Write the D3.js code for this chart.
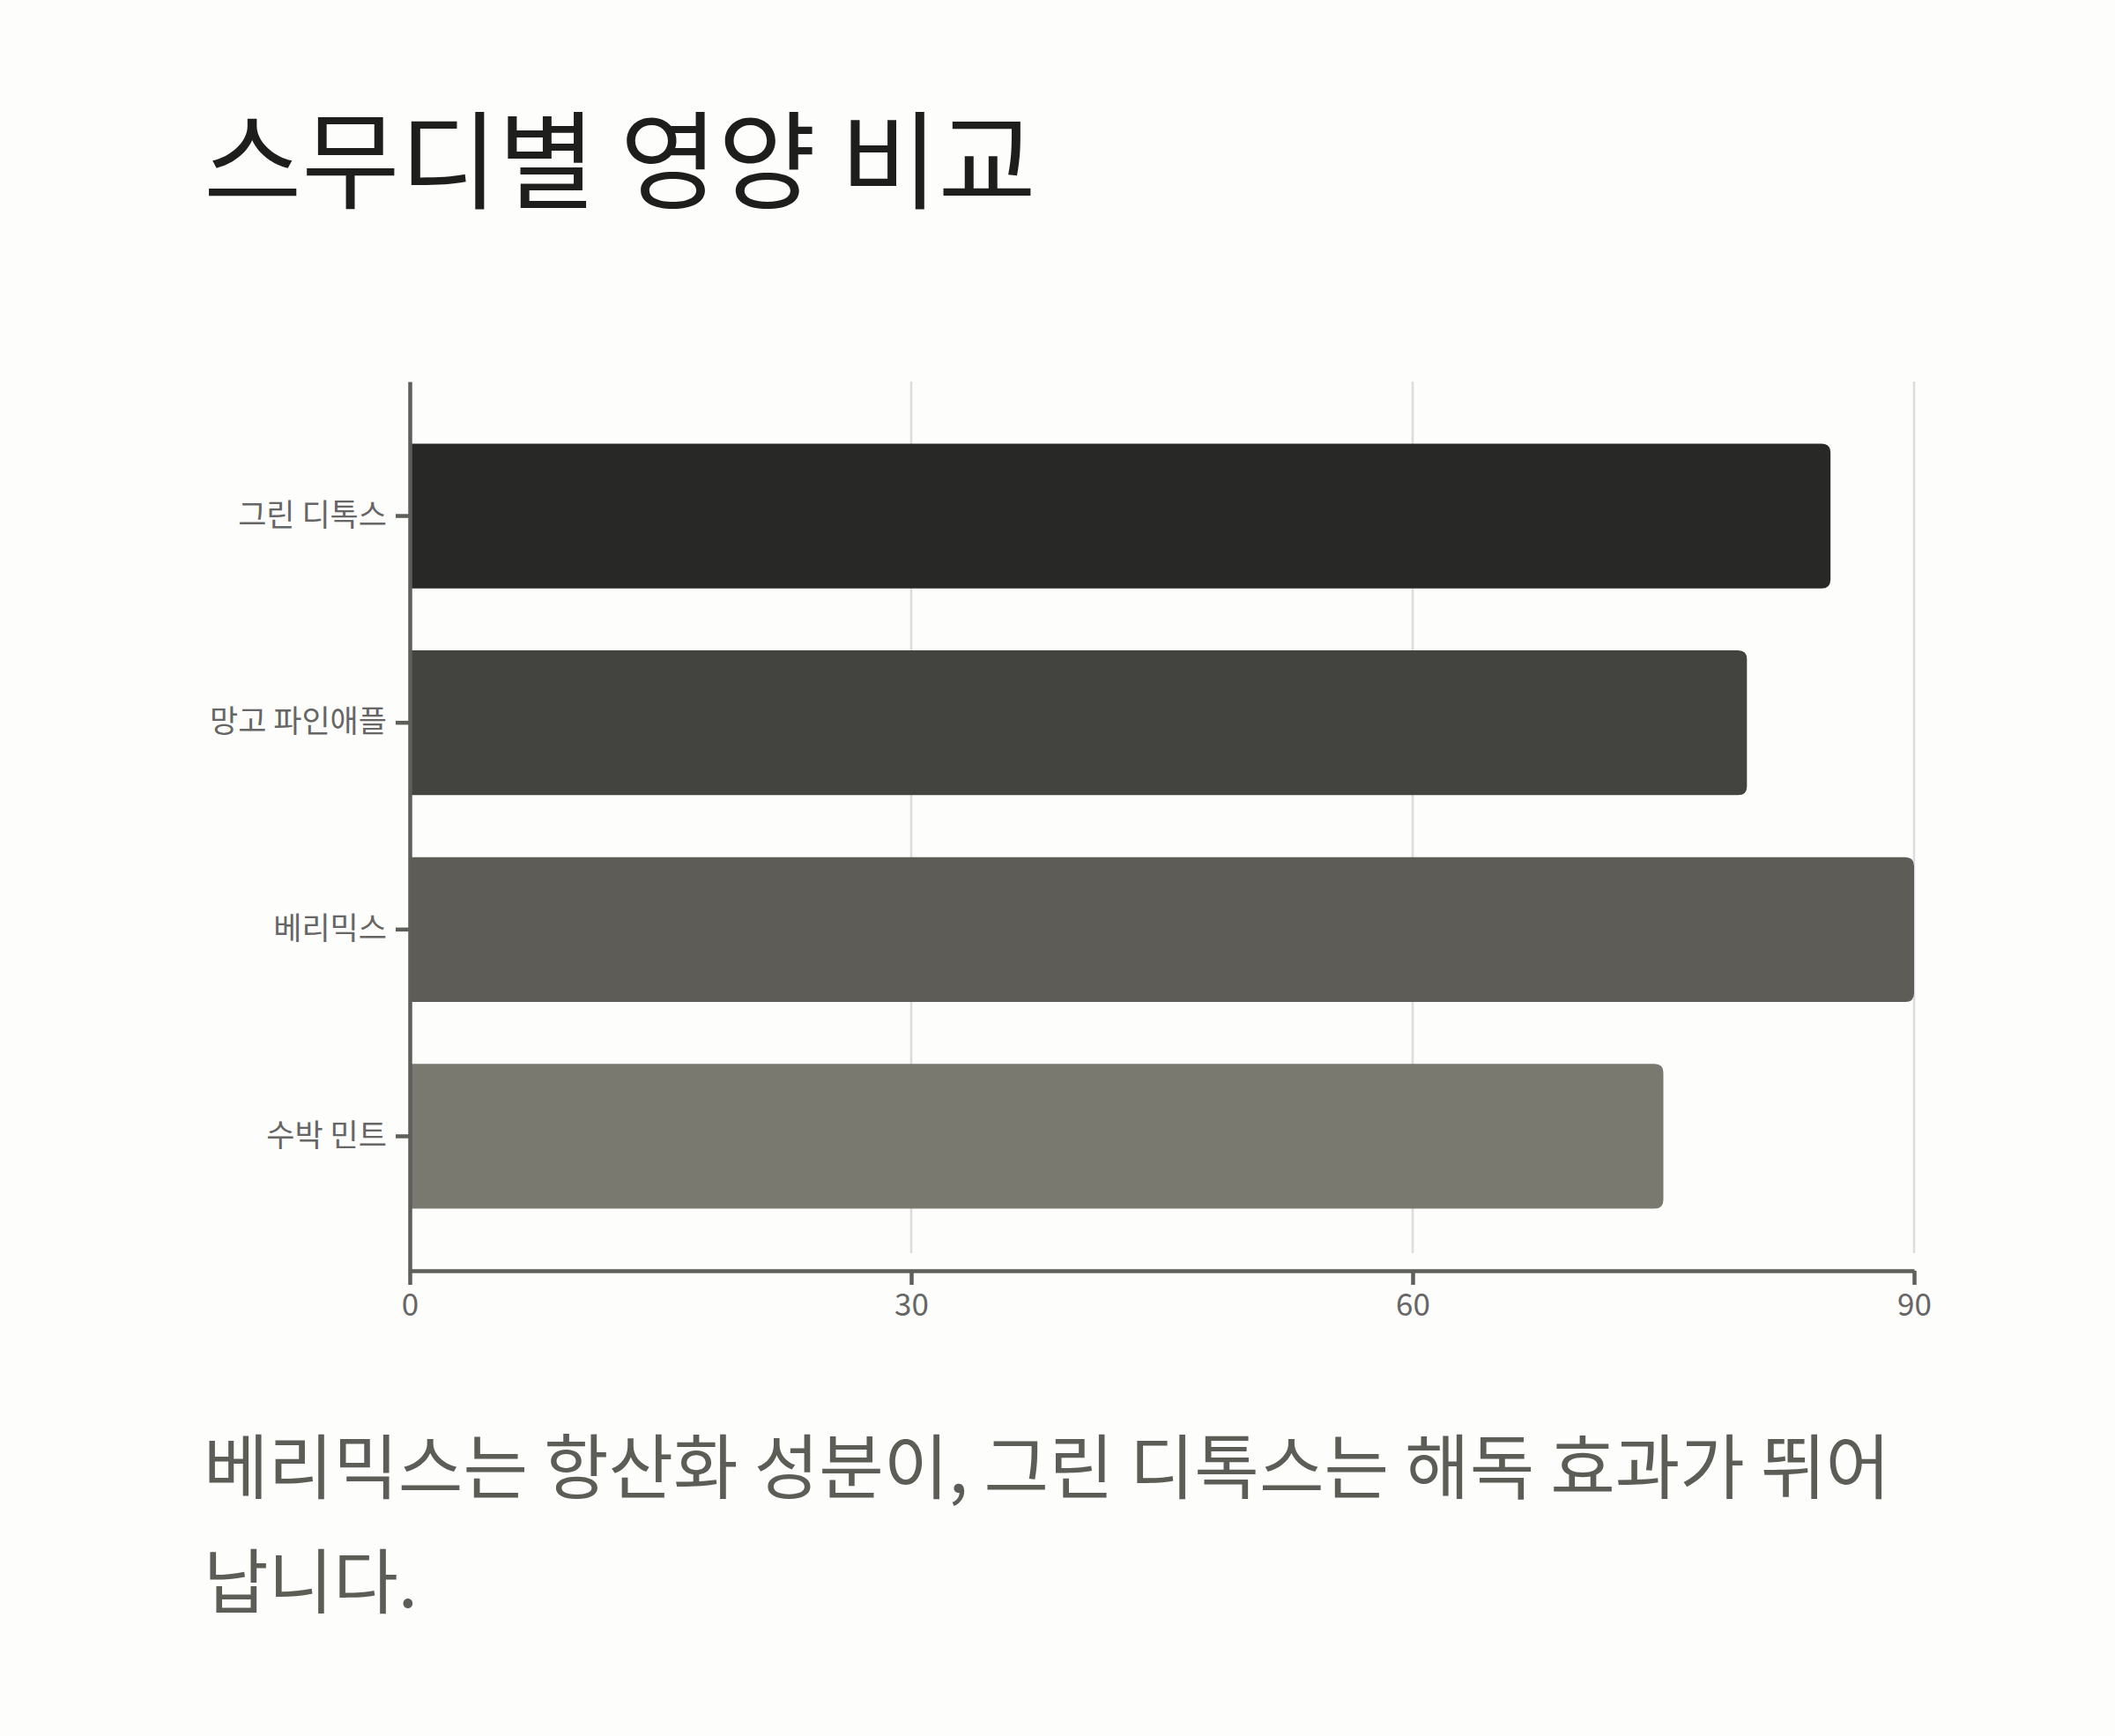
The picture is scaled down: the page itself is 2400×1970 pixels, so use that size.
<!DOCTYPE html>
<html>
<head>
<meta charset="utf-8">
<script src="https://cdn.jsdelivr.net/npm/d3@7"></script>
<style>
  body { margin: 0; background: #fdfdfc; }
  svg { display: block; font-family: "Noto Sans CJK KR", "Noto Sans", sans-serif; }
</style>
</head>
<body>
<div id="chart"></div>
<script>
// data
const smoothies = ["그린 디톡스", "망고 파인애플", "베리믹스", "수박 민트"];
const scores = [85, 80, 90, 75];
const xTicks = [0, 30, 60, 90];
const barColors = ["#282826", "#434440", "#5d5c56", "#7a7970"];
const title = "스무디별 영양 비교";
const note = ["베리믹스는 항산화 성분이, 그린 디톡스는 해독 효과가 뛰어", "납니다."];

const width = 2400, height = 1970,
    margin = ({ top: 433, right: 228, bottom: 528, left: 465 });

const svg = d3.select("#chart")
    .append("svg")
    .attr("width", width)
    .attr("height", height)
    .attr("viewBox", [0, 0, width, height]);

svg.append("text")
    .attr("x", 231)
    .attr("y", 227)
    .attr("font-size", 121)
    .attr("fill", "#1e1e1c")
    .text(title);

let x = d3.scaleLinear()
    .domain([0, 90])
    .range([margin.left, width - margin.right]);

let y = d3.scaleBand()
    .domain(smoothies)
    .range([margin.top, height - margin.bottom])
    .padding(0.3);

const axisY = height - margin.bottom;

// vertical grid lines (stop short of the x axis)
svg.append("g")
    .selectAll("line")
    .data(xTicks.slice(1))
    .join("line")
    .attr("x1", d => x(d))
    .attr("x2", d => x(d))
    .attr("y1", margin.top)
    .attr("y2", axisY - 20)
    .attr("stroke", "#dcdcdc")
    .attr("stroke-width", 2.5);

// bars, rounded on the right end only
const r = 10;
function barPath(d, i) {
    const x0 = x(0), x1 = x(d), y0 = y(smoothies[i]), h = y.bandwidth();
    return `M${x0},${y0}H${x1 - r}Q${x1},${y0} ${x1},${y0 + r}` +
        `V${y0 + h - r}Q${x1},${y0 + h} ${x1 - r},${y0 + h}H${x0}Z`;
}

svg.append("g")
    .selectAll("path")
    .data(scores)
    .join("path")
    .attr("d", barPath)
    .attr("fill", (d, i) => barColors[i]);

const axisColor = "#5e5e5a";

let gx = svg.append("g")
    .attr("transform", `translate(0,${axisY})`)
    .call(d3.axisBottom(x).tickValues(xTicks).tickSize(16).tickSizeOuter(0).tickPadding(10));

let gy = svg.append("g")
    .attr("transform", `translate(${margin.left},0)`)
    .call(d3.axisLeft(y).tickSize(16).tickSizeOuter(0).tickPadding(10));

for (let g of [gx, gy]) {
    g.select(".domain").attr("stroke", axisColor).attr("stroke-width", 4.5);
    g.selectAll(".tick line").attr("stroke", axisColor).attr("stroke-width", 4.5);
    g.selectAll(".tick text")
        .attr("fill", "#666")
        .attr("font-family", "'Noto Sans CJK KR', sans-serif");
}
gx.selectAll(".tick text").attr("font-size", 35);
gy.selectAll(".tick text").attr("font-size", 35);

// takeaway note under the chart
svg.append("text")
    .attr("x", 231)
    .attr("y", 1694)
    .attr("font-size", 80)
    .attr("fill", "#5d5d58")
    .selectAll("tspan")
    .data(note)
    .join("tspan")
    .attr("x", 231)
    .attr("dy", (d, i) => i === 0 ? 0 : 130)
    .text(d => d);
</script>
</body>
</html>
